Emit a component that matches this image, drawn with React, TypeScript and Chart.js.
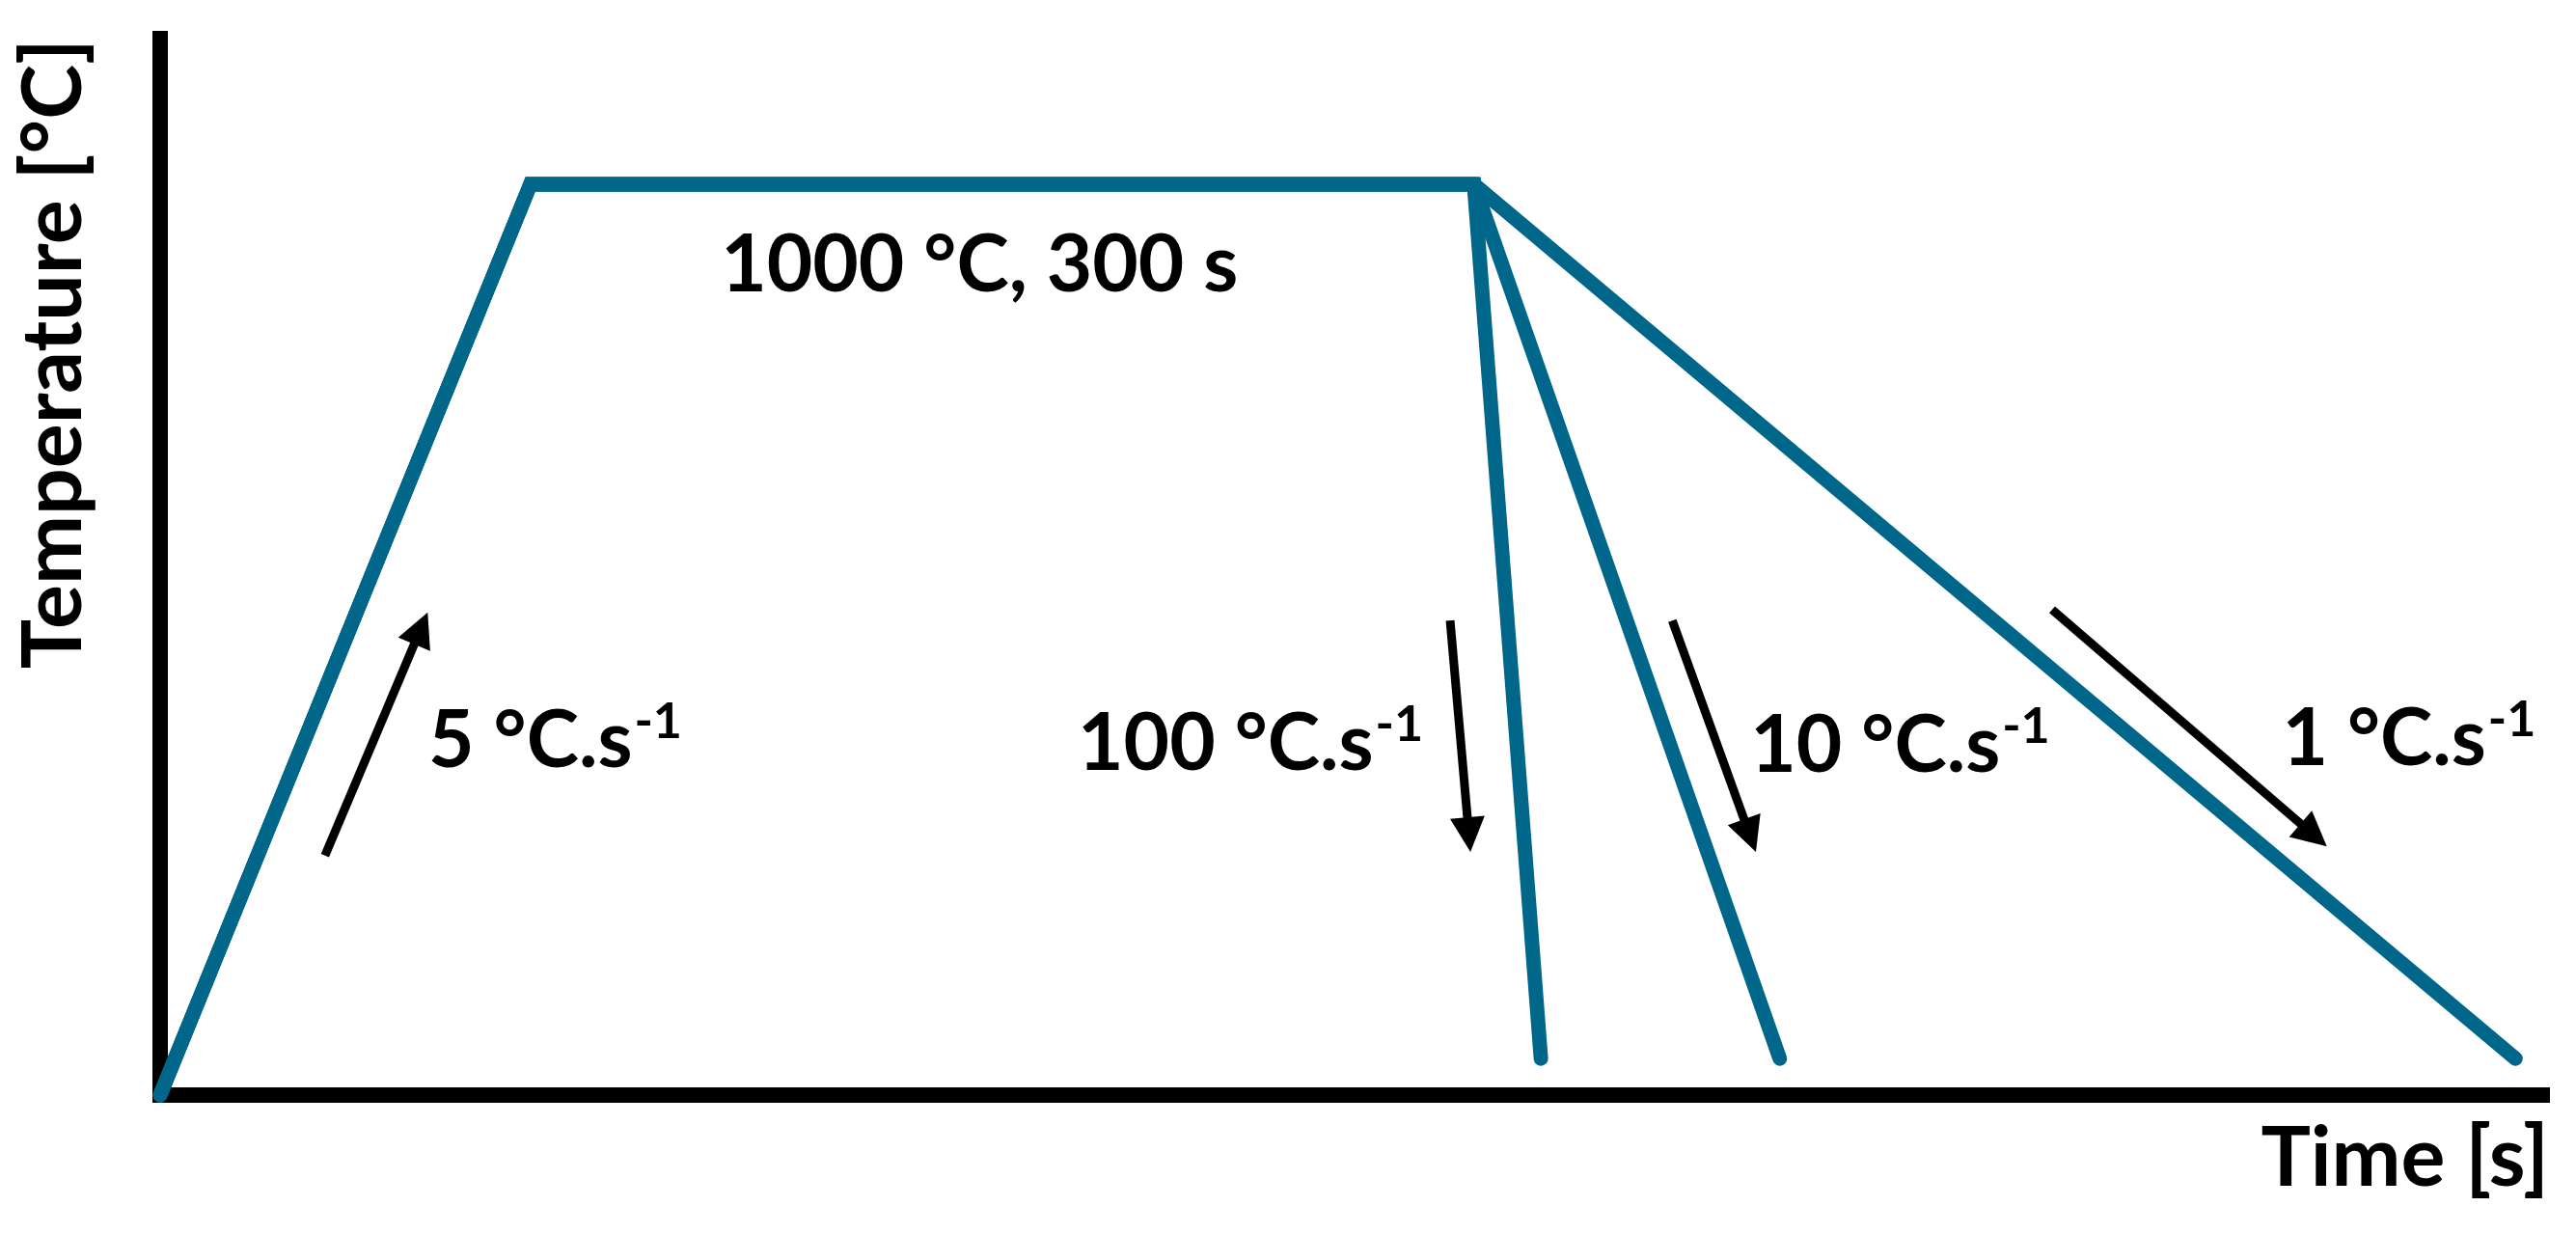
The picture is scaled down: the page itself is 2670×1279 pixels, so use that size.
import React, { useEffect, useRef } from 'react';
import { Chart, registerables } from 'chart.js';

Chart.register(...registerables);

// ---- Data (schematic thermal cycle; time in arbitrary units, temperature in °C) ----
const cycleTemps = [0, 1000, 1000, 40];
const cycleTimes100 = [0, 15.5, 55, 57.8];
const cycleTimes10 = [0, 15.5, 55, 67.8];
const cycleTimes1 = [0, 15.5, 55, 98.6];

const timeMin = 0;
const timeMax = 100;
const tempMin = 0;
const tempMax = 1160;

const xTitle = 'Time [s]';
const yTitle = 'Temperature [°C]';

const holdLabel = '1000 °C, 300 s';
const holdLabelX = 34.3;
const holdLabelY = 882;

const rateLabels = ['5 °C.s', '100 °C.s', '10 °C.s', '1 °C.s'];
const rateSuperscript = '-1';
const rateLabelX = [16.5, 45.6, 72.8, 94.1];
const rateLabelY = [360, 357, 355, 362];

const arrowStartX = [6.9, 54.0, 63.3, 79.2];
const arrowStartY = [263, 521, 521, 533];
const arrowEndX = [11.2, 54.85, 66.8, 90.7];
const arrowEndY = [530, 267, 267, 273];

// ---- Styles ----
const LINE_COLOR = '#00668a';
const FONT_FAMILY = 'Lato, "Open Sans", sans-serif';
const TITLE_SIZE = 86;
const LABEL_SIZE = 82;
const SUP_SIZE = 52;
const SUP_RAISE = 30;

const toPoints = (xs: number[], ys: number[]) => xs.map((x, i) => ({ x, y: ys[i] }));

const annotationPlugin = {
  id: 'cycleAnnotations',
  afterDatasetsDraw(chart: any) {
    const { ctx } = chart;
    const xs = chart.scales.x;
    const ys = chart.scales.y;
    ctx.save();
    ctx.fillStyle = '#000';
    ctx.strokeStyle = '#000';

    // arrows
    const headLen = 36;
    const headHalf = 18;
    for (let i = 0; i < arrowStartX.length; i++) {
      const x1 = xs.getPixelForValue(arrowStartX[i]);
      const y1 = ys.getPixelForValue(arrowStartY[i]);
      const x2 = xs.getPixelForValue(arrowEndX[i]);
      const y2 = ys.getPixelForValue(arrowEndY[i]);
      const a = Math.atan2(y2 - y1, x2 - x1);
      const c = Math.cos(a);
      const s = Math.sin(a);
      const bx = x2 - headLen * c;
      const by = y2 - headLen * s;
      ctx.lineWidth = 9;
      ctx.lineCap = 'butt';
      ctx.beginPath();
      ctx.moveTo(x1, y1);
      ctx.lineTo(bx + 6 * c, by + 6 * s);
      ctx.stroke();
      ctx.beginPath();
      ctx.moveTo(x2, y2);
      ctx.lineTo(bx - headHalf * s, by + headHalf * c);
      ctx.lineTo(bx + headHalf * s, by - headHalf * c);
      ctx.closePath();
      ctx.fill();
    }

    // labels
    ctx.textBaseline = 'alphabetic';
    ctx.textAlign = 'left';
    const mainFont = `bold ${LABEL_SIZE}px ${FONT_FAMILY}`;
    const supFont = `bold ${SUP_SIZE}px ${FONT_FAMILY}`;

    ctx.font = mainFont;
    const hw = ctx.measureText(holdLabel).width;
    ctx.fillText(holdLabel, xs.getPixelForValue(holdLabelX) - hw / 2, ys.getPixelForValue(holdLabelY));

    for (let i = 0; i < rateLabels.length; i++) {
      ctx.font = mainFont;
      const w1 = ctx.measureText(rateLabels[i]).width;
      ctx.font = supFont;
      const w2 = ctx.measureText(rateSuperscript).width;
      const cx = xs.getPixelForValue(rateLabelX[i]);
      const by = ys.getPixelForValue(rateLabelY[i]);
      const left = cx - (w1 + w2) / 2;
      ctx.font = mainFont;
      ctx.fillText(rateLabels[i], left, by);
      ctx.font = supFont;
      ctx.fillText(rateSuperscript, left + w1 + 2, by - SUP_RAISE);
    }
    ctx.restore();
  },
};

export default function App() {
  const canvasRef = useRef<HTMLCanvasElement>(null);

  useEffect(() => {
    if (!canvasRef.current) return;
    const lineStyle = {
      borderColor: LINE_COLOR,
      backgroundColor: LINE_COLOR,
      borderWidth: 15,
      borderCapStyle: 'round' as const,
      borderJoinStyle: 'miter' as const,
      pointRadius: 0,
      pointHoverRadius: 0,
      tension: 0,
      fill: false,
      clip: false as any,
    };
    const chart = new Chart(canvasRef.current, {
      type: 'line',
      data: {
        datasets: [
          { label: '1 °C/s', data: toPoints(cycleTimes1, cycleTemps), ...lineStyle },
          { label: '10 °C/s', data: toPoints(cycleTimes10, cycleTemps), ...lineStyle },
          { label: '100 °C/s', data: toPoints(cycleTimes100, cycleTemps), ...lineStyle },
        ],
      },
      options: {
        animation: false,
        responsive: true,
        maintainAspectRatio: false,
        layout: { padding: { left: 4.4, right: 28, top: 40, bottom: 26.4 } },
        plugins: {
          legend: { display: false },
          tooltip: { enabled: false },
        },
        events: [],
        scales: {
          x: {
            type: 'linear',
            position: 'bottom',
            min: timeMin,
            max: timeMax,
            grid: { display: false, drawTicks: false },
            ticks: { display: false },
            border: { display: true, color: '#000', width: 16 },
            title: {
              display: true,
              text: xTitle,
              align: 'end',
              color: '#000',
              font: { family: FONT_FAMILY, weight: 'bold', size: TITLE_SIZE, lineHeight: 1.2 },
              padding: { top: 14.4, bottom: 0 },
            },
          },
          y: {
            type: 'linear',
            position: 'left',
            min: tempMin,
            max: tempMax,
            grid: { display: false, drawTicks: false },
            ticks: { display: false },
            border: { display: true, color: '#000', width: 16 },
            title: {
              display: true,
              text: yTitle,
              align: 'end',
              color: '#000',
              font: { family: FONT_FAMILY, weight: 'bold', size: TITLE_SIZE, lineHeight: 1.2 },
              padding: { top: 0, bottom: 58.4 },
            },
          },
        },
      },
      plugins: [annotationPlugin],
    });
    return () => chart.destroy();
  }, []);

  return (
    <div style={{ position: 'fixed', left: 0, top: 0, width: 2670, height: 1279, background: '#fff' }}>
      <canvas ref={canvasRef} />
    </div>
  );
}
